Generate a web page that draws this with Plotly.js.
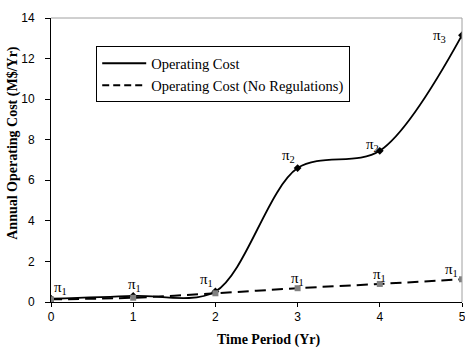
<!DOCTYPE html>
<html>
<head>
<meta charset="utf-8">
<script src="https://cdn.plot.ly/plotly-3.0.1.min.js"></script>
<style>html,body{margin:0;padding:0;background:#fff;}#chart{width:465px;height:350px;}</style>
</head>
<body>
<div id="chart"></div>
<script>
var periods = [0, 1, 2, 3, 4, 5];
var costRegulated = [0.16, 0.3, 0.52, 6.6, 7.45, 13.15];
var costNoRegulations = [0.13, 0.21, 0.43, 0.68, 0.89, 1.12];
var regimeLabels = ['π<sub>1</sub>', 'π<sub>1</sub>', 'π<sub>1</sub>', 'π<sub>2</sub>', 'π<sub>2</sub>', 'π<sub>3</sub>'];
var noRegLabels = ['π<sub>1</sub>', 'π<sub>1</sub>', 'π<sub>1</sub>'];
var xTicks = [0, 1, 2, 3, 4, 5];
var yTicks = [0, 2, 4, 6, 8, 10, 12, 14];
var seriesNames = ['Operating Cost', 'Operating Cost (No Regulations)'];

var serif = 'Liberation Serif, Times New Roman, serif';
var sans = 'Liberation Sans, Arial, sans-serif';

var solidLine = {color: '#000', width: 1.8, shape: 'spline', smoothing: 0.9};
var dashLine = {color: '#000', width: 2, dash: '11px,6px', shape: 'spline', smoothing: 0.9};

var traces = [
  {
    x: periods, y: costRegulated, name: seriesNames[0], type: 'scatter', mode: 'lines+markers', showlegend: false,
    line: solidLine,
    marker: {symbol: 'diamond', size: 6, color: '#000'}
  },
  {
    x: periods, y: costNoRegulations, name: seriesNames[1], type: 'scatter', mode: 'lines+markers', showlegend: false,
    line: dashLine,
    marker: {symbol: 'square', size: 6, color: '#808080'}
  },
  {x: [null], y: [null], name: seriesNames[0], type: 'scatter', mode: 'lines', line: {color: '#000', width: 2}},
  {x: [null], y: [null], name: seriesNames[1], type: 'scatter', mode: 'lines', line: {color: '#000', width: 2, dash: '7px,4px'}}
];

var annotations = [];
var regAnch = [
  {xa: 'left', xs: 1, ys: 0},
  {xa: 'center', xs: 1, ys: 0},
  {xa: 'right', xs: 0, ys: 0},
  {xa: 'right', xs: -1, ys: 1},
  {xa: 'right', xs: 1, ys: -5},
  {xa: 'right', xs: -14, ys: -12}
];
for (var i = 0; i < periods.length; i++) {
  annotations.push({x: periods[i], y: costRegulated[i], xref: 'x', yref: 'y', text: regimeLabels[i], showarrow: false,
    xanchor: regAnch[i].xa, yanchor: 'bottom', xshift: regAnch[i].xs, yshift: regAnch[i].ys, font: {family: serif, size: 15, color: '#000'}});
}
var noRegAnch = [{xa: 'center', xs: 0}, {xa: 'center', xs: 0}, {xa: 'right', xs: -2}];
for (var j = 0; j < noRegLabels.length; j++) {
  annotations.push({x: periods[3 + j], y: costNoRegulations[3 + j], xref: 'x', yref: 'y', text: noRegLabels[j], showarrow: false,
    xanchor: noRegAnch[j].xa, yanchor: 'bottom', xshift: noRegAnch[j].xs, yshift: -2, font: {family: serif, size: 15, color: '#000'}});
}
annotations.push({x: 0.53, y: -0.135, xref: 'paper', yref: 'paper', text: '<b>Time Period (Yr)</b>', showarrow: false,
  xanchor: 'center', yanchor: 'middle', font: {family: serif, size: 14, color: '#000'}});
annotations.push({x: -0.093, y: 0.56, xref: 'paper', yref: 'paper', text: '<b>Annual Operating Cost (M$/Yr)</b>', showarrow: false,
  textangle: -90, xanchor: 'center', yanchor: 'middle', font: {family: serif, size: 14, color: '#000'}});

var layout = {
  width: 465, height: 350,
  margin: {l: 51, r: 3, t: 18, b: 48, pad: 0},
  paper_bgcolor: '#fff', plot_bgcolor: '#fff',
  showlegend: true,
  legend: {x: 0.11, y: 0.9, xanchor: 'left', yanchor: 'top', bgcolor: '#fff', bordercolor: '#000', borderwidth: 1,
    font: {family: serif, size: 14.5, color: '#000'}, tracegroupgap: 0, itemwidth: 44, traceorder: 'normal'},
  xaxis: {range: [0, 5], tickvals: xTicks, ticktext: xTicks.map(String), showgrid: false, zeroline: false,
    showline: true, linecolor: '#000', linewidth: 1, ticks: 'outside', ticklen: 4, tickcolor: '#000',
    ticklabeloverflow: 'allow', tickfont: {family: sans, size: 12, color: '#000'}, fixedrange: true},
  yaxis: {range: [0, 14], tickvals: yTicks, ticktext: yTicks.map(String), showgrid: false, zeroline: false,
    showline: true, linecolor: '#000', linewidth: 1, ticks: 'outside', ticklen: 5, tickcolor: '#000',
    ticklabelstandoff: 8, tickfont: {family: sans, size: 12, color: '#000'}, fixedrange: true},
  shapes: [
    {type: 'line', xref: 'paper', yref: 'paper', x0: 0, x1: 1, y0: 1, y1: 1, line: {color: '#a0a0a0', width: 1}},
    {type: 'line', xref: 'paper', yref: 'paper', x0: 1, x1: 1, y0: 0, y1: 1, line: {color: '#a0a0a0', width: 1}}
  ],
  annotations: annotations
};

Plotly.newPlot('chart', traces, layout, {displayModeBar: false, staticPlot: true});
</script>
</body>
</html>
